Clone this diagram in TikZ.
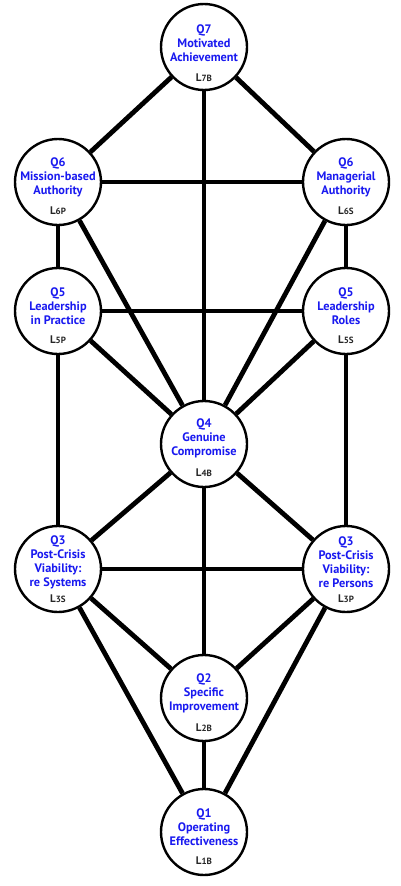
\documentclass[tikz,border=0pt]{standalone}
\usepackage{fontspec}
\setmainfont{PT Sans}
\usepackage{tikz}
\usetikzlibrary{positioning, backgrounds}
\definecolor{qblue}{RGB}{25,25,240}

\begin{document}
\begin{tikzpicture}[x=1pt, y=-1pt, on grid,
        sephira/.style={circle, draw, line width=2.4pt, fill=white, minimum size=86pt, inner sep=0pt},
        qtext/.style={align=center, text=qblue, font=\fontsize{12.3}{14}\selectfont\bfseries},
        lvl/.style={font=\fontsize{11}{12}\selectfont\bfseries, text=black!85},
        link/.style={line width=4.8pt}]
    \useasboundingbox (0,0) rectangle (400,886);
    % the circles
    \node[sephira] (q7) at (204,47) {};
    \node[sephira] (q6l) [below left=135pt and 146pt of q7] {};
    \node[sephira] (q6r) [below right=135pt and 142pt of q7] {};
    \node[sephira] (q5l) [below=129pt of q6l] {};
    \node[sephira] (q5r) [below=129pt of q6r] {};
    \node[sephira] (q4) [below=397pt of q7] {};
    \node[sephira] (q3l) [below=258pt of q5l] {};
    \node[sephira] (q3r) [below=258pt of q5r] {};
    \node[sephira] (q2) [below=254pt of q4] {};
    \node[sephira] (q1) [below=134pt of q2] {};
    % names and levels
    \node[qtext] (q7t) [above=4pt of q7] {Q7\\Motivated\\Achievement};
    \node[lvl] (q7n) [below=31pt of q7] {L{\small 7B}};
    \node[qtext] (q6lt) [above=5pt of q6l] {Q6\\Mission-based\\Authority};
    \node[lvl] (q6ln) [below=29pt of q6l] {L{\small 6P}};
    \node[qtext] (q6rt) [above=5pt of q6r] {Q6\\Managerial\\Authority};
    \node[lvl] (q6rn) [below=29pt of q6r] {L{\small 6S}};
    \node[qtext] (q5lt) [above=5pt of q5l] {Q5\\Leadership\\in Practice};
    \node[lvl] (q5ln) [below=29pt of q5l] {L{\small 5P}};
    \node[qtext] (q5rt) [above=5pt of q5r] {Q5\\Leadership\\Roles};
    \node[lvl] (q5rn) [below=29pt of q5r] {L{\small 5S}};
    \node[qtext] (q4t) [above=6pt of q4] {Q4\\Genuine\\Compromise};
    \node[lvl] (q4n) [below=29pt of q4] {L{\small 4B}};
    \node[qtext] (q3lt) [above=7pt of q3l] {Q3\\Post-Crisis\\Viability:\\re Systems};
    \node[lvl] (q3ln) [below=30pt of q3l] {L{\small 3S}};
    \node[qtext] (q3rt) [above=7pt of q3r] {Q3\\Post-Crisis\\Viability:\\re Persons};
    \node[lvl] (q3rn) [below=30pt of q3r] {L{\small 3P}};
    \node[qtext] (q2t) [above=5pt of q2] {Q2\\Specific\\Improvement};
    \node[lvl] (q2n) [below=30pt of q2] {L{\small 2B}};
    \node[qtext] (q1t) [above=5pt of q1] {Q1\\Operating\\Effectiveness};
    \node[lvl] (q1n) [below=29pt of q1] {L{\small 1B}};
    % the paths
    \begin{scope}[on background layer]
        \path[link]
        (q7) edge (q6l)
             edge (q6r)
             edge (q4)
        (q6l) edge (q6r)
              edge (q5l)
              edge (q4)
        (q6r) edge (q5r)
              edge (q4)
        (q5l) edge (q5r)
              edge (q4)
              edge (q3l)
        (q5r) edge (q4)
              edge (q3r)
        (q4) edge (q3l)
             edge (q3r)
             edge (q2)
        (q3l) edge (q3r)
              edge (q2)
              edge (q1)
        (q3r) edge (q2)
              edge (q1)
        (q2) edge (q1);
    \end{scope}
\end{tikzpicture}
\end{document}
